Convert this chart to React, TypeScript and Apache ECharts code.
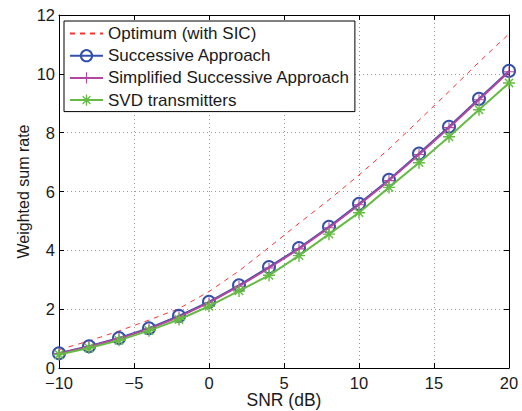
import React, { useEffect, useRef } from "react";
import * as echarts from "echarts";

const snr = [-10, -8, -6, -4, -2, 0, 2, 4, 6, 8, 10, 12, 14, 16, 18, 20];
const optimum = [0.62, 0.92, 1.26, 1.63, 2.02, 2.6, 3.3, 4.1, 4.92, 5.72, 6.56, 7.45, 8.42, 9.4, 10.4, 11.36];
const successive = [0.5, 0.74, 1.02, 1.35, 1.77, 2.25, 2.81, 3.43, 4.08, 4.8, 5.58, 6.4, 7.29, 8.2, 9.15, 10.1];
const simplified = [0.49, 0.72, 1.0, 1.33, 1.74, 2.22, 2.78, 3.4, 4.05, 4.77, 5.55, 6.37, 7.26, 8.17, 9.12, 10.07];
const svd = [0.46, 0.68, 0.94, 1.27, 1.65, 2.1, 2.62, 3.15, 3.82, 4.55, 5.28, 6.14, 6.98, 7.86, 8.78, 9.69];
const seriesNames = ["Optimum (with SIC)", "Successive Approach", "Simplified Successive Approach", "SVD transmitters"];

const PLUS = "path://M9,0 L11,0 L11,9 L20,9 L20,11 L11,11 L11,20 L9,20 L9,11 L0,11 L0,9 L9,9 Z";
const STAR =
  "path://M0,8.8 L20,8.8 L20,11.2 L0,11.2 Z M8.8,0 L11.2,0 L11.2,20 L8.8,20 Z M3.9,2.2 L17.8,16.1 L16.1,17.8 L2.2,3.9 Z M16.1,2.2 L17.8,3.9 L3.9,17.8 L2.2,16.1 Z";

const FONT = "'Liberation Sans', Arial, Helvetica, sans-serif";
const TXT = "#1a1a1a";

export default function App() {
  const ref = useRef<HTMLDivElement>(null);
  useEffect(() => {
    document.body.style.margin = "0";
    const chart = echarts.init(ref.current!, null, { renderer: "svg" });
    const pair = (ys: number[]) => snr.map((x, i) => [x, ys[i]]);
    const minus = (v: number) => String(v).replace("-", "\u2212");
    const axisCommon = {
      type: "value" as const,
      nameMoveOverlap: false,
      axisLine: { show: true, onZero: false, lineStyle: { color: "#000", width: 1 } },
      axisTick: { show: true, inside: true, length: 5, lineStyle: { color: "#000" } },
    };
    chart.setOption({
      animation: false,
      backgroundColor: "#fff",
      textStyle: { fontFamily: FONT },
      grid: { left: 59, top: 15, width: 450, height: 353, show: false, containLabel: false, outerBoundsMode: "none" },
      legend: {
        orient: "vertical",
        left: 64,
        top: 21,
        data: [
          { name: seriesNames[0], itemStyle: { opacity: 0 } },
          seriesNames[1],
          seriesNames[2],
          seriesNames[3],
        ],
        backgroundColor: "#fff",
        borderColor: "#000",
        borderWidth: 1,
        borderRadius: 0,
        padding: [4, 5, 3, 5],
        itemGap: 5.2,
        itemWidth: 33,
        itemHeight: 14,
        textStyle: { fontSize: 17, lineHeight: 17, color: TXT, fontFamily: FONT },
      },
      xAxis: [
        {
          ...axisCommon,
          min: -10,
          max: 20,
          interval: 5,
          position: "bottom",
          name: "SNR (dB)",
          nameLocation: "middle",
          nameGap: 23,
          nameTextStyle: { fontSize: 17.5, color: TXT, fontFamily: FONT },
          axisLabel: { fontSize: 16.5, color: TXT, margin: 6, formatter: minus, fontFamily: FONT },
          splitLine: { show: true, lineStyle: { color: "#999", type: [1, 3], width: 1 } },
        },
        {
          ...axisCommon,
          min: -10,
          max: 20,
          interval: 5,
          position: "top",
          axisLabel: { show: false },
          splitLine: { show: false },
        },
      ],
      yAxis: [
        {
          ...axisCommon,
          min: 0,
          max: 12,
          interval: 2,
          position: "left",
          name: "Weighted sum rate",
          nameLocation: "middle",
          nameGap: 27.5,
          nameTextStyle: { fontSize: 16, color: TXT, fontFamily: FONT },
          axisLabel: { fontSize: 16.5, color: TXT, margin: 4, fontFamily: FONT },
          splitLine: { show: true, lineStyle: { color: "#999", type: [1, 3], width: 1 } },
        },
        {
          ...axisCommon,
          min: 0,
          max: 12,
          interval: 2,
          position: "right",
          axisLabel: { show: false },
          splitLine: { show: false },
        },
      ],
      series: [
        {
          name: seriesNames[0],
          type: "line",
          data: pair(optimum),
          showSymbol: false,
          symbol: "none",
          lineStyle: { color: "#ff3333", width: 1, type: [5, 5] },
          itemStyle: { color: "#ff3333", opacity: 0 },
          z: 2,
        },
        {
          name: seriesNames[1],
          type: "line",
          data: pair(successive),
          symbol: "circle",
          symbolSize: 12,
          lineStyle: { color: "#3450a8", width: 2 },
          itemStyle: { color: "rgba(255,255,255,0)", borderColor: "#3450a8", borderWidth: 2 },
          z: 3,
        },
        {
          name: seriesNames[2],
          type: "line",
          data: pair(simplified),
          symbol: PLUS,
          symbolSize: 11,
          lineStyle: { color: "#b3479f", width: 2 },
          itemStyle: { color: "#b3479f" },
          z: 4,
        },
        {
          name: seriesNames[3],
          type: "line",
          data: pair(svd),
          symbol: STAR,
          symbolSize: 12,
          lineStyle: { color: "#66bb44", width: 2 },
          itemStyle: { color: "#66bb44" },
          z: 5,
        },
      ],
    });
    return () => chart.dispose();
  }, []);
  return <div ref={ref} style={{ width: 522, height: 411 }} />;
}
